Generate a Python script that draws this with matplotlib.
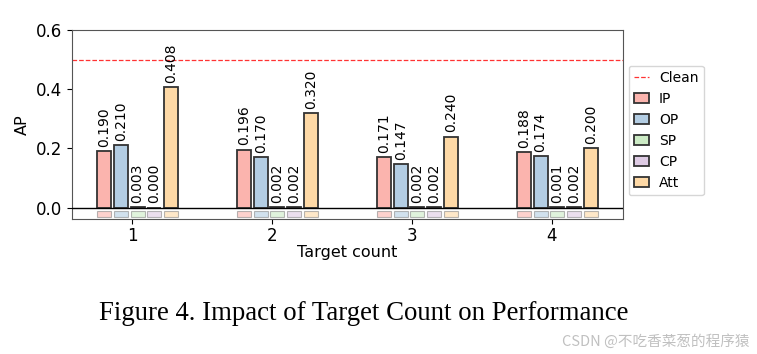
import numpy as np
import matplotlib
matplotlib.use("Agg")
import matplotlib.pyplot as plt

counts = ["1", "2", "3", "4"]
methods = ["IP", "OP", "SP", "CP", "Att"]
ap_values = {
    "IP": [0.190, 0.196, 0.171, 0.188],
    "OP": [0.210, 0.170, 0.147, 0.174],
    "SP": [0.003, 0.002, 0.002, 0.001],
    "CP": [0.000, 0.002, 0.002, 0.002],
    "Att": [0.408, 0.320, 0.240, 0.200],
}
clean_ap = 0.5
colors = ["#fbb4ae", "#b3cde3", "#ccebc5", "#decbe4", "#fed9a6"]

fig = plt.figure(figsize=(7.57, 3.54), dpi=100)
ax = fig.add_axes([0.095, 0.38, 0.728, 0.535])

x = np.arange(1, len(counts) + 1)
width = 0.1
step = 0.12
for j, m in enumerate(methods):
    pos = x - 0.2 + j * step
    bars = ax.bar(pos, ap_values[m], width, color=colors[j], edgecolor="#333333",
                  linewidth=1.3, label=m, zorder=3)
    # little colour strip under the zero line
    ax.bar(pos, 0.02, width, bottom=-0.03, color=colors[j], alpha=0.6,
           edgecolor="#888888", linewidth=0.8, zorder=2)
    ax.bar_label(bars, labels=[f"{v:.3f}" for v in ap_values[m]], padding=3,
                 rotation=90, fontsize=10)

ax.axhline(clean_ap, color="red", linestyle="--", linewidth=0.9, alpha=0.8,
           label="Clean", zorder=1)
ax.axhline(0, color="black", linewidth=1, zorder=4)

ax.set_xticks(x)
ax.set_xticklabels(counts)
ax.set_ylim(-0.04, 0.6)
ax.set_yticks([0.0, 0.2, 0.4, 0.6])
ax.tick_params(labelsize=12)
ax.tick_params(axis="x", pad=2)
ax.set_xlabel("Target count", fontsize=11.5, labelpad=0)
ax.set_ylabel("AP", fontsize=11.5)
for spine in ax.spines.values():
    spine.set_color("#555555")

handles, labels = ax.get_legend_handles_labels()
order = [labels.index("Clean")] + [labels.index(m) for m in methods]
ax.legend([handles[i] for i in order], [labels[i] for i in order],
          loc="center left", bbox_to_anchor=(1.01, 0.47), fontsize=10,
          handlelength=1.1, handletextpad=0.7, borderaxespad=0)

fig.text(0.48, 0.115, "Figure 4. Impact of Target Count on Performance",
         ha="center", va="center", fontsize=19.3, family="Liberation Serif")
fig.text(0.99, 0.035, "CSDN @不吃香菜葱的程序猿", ha="right", va="center",
         fontsize=10.5, color="#c0c0c0", family=["Noto Sans CJK SC", "DejaVu Sans"])

fig.savefig("out.png", dpi=100)
